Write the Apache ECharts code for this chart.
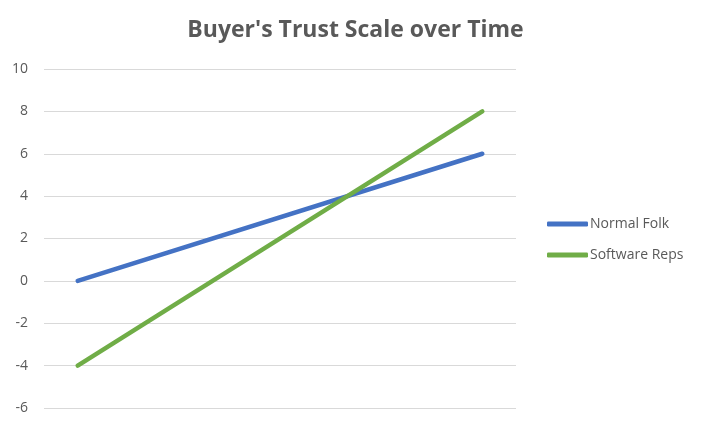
<!DOCTYPE html>
<html><head><meta charset="utf-8">
<script src="https://cdn.jsdelivr.net/npm/echarts@6/dist/echarts.min.js"></script>
<style>html,body{margin:0;padding:0;background:#fff}#c{width:711px;height:427px}</style>
</head><body><div id="c"></div>
<script>
const categories = ["1","2","3","4","5","6","7"];
const normalFolk = [0, null, null, null, null, null, 6];
const softwareReps = [-4, null, null, null, null, null, 8];
const seriesNames = ["Normal Folk", "Software Reps"];
const titleText = "Buyer's Trust Scale over Time";

const chart = echarts.init(document.getElementById('c'));
chart.setOption({
  animation: false,
  backgroundColor: '#fff',
  title: {
    text: titleText, left: 'center', top: 14,
    textStyle: { fontFamily: 'Open Sans', fontSize: 23, fontWeight: 'bold', color: '#595959' }
  },
  legend: {
    orient: 'vertical', left: 542, top: 212,
    itemWidth: 41, itemHeight: 5, itemGap: 17,
    icon: 'roundRect',
    textStyle: { fontFamily: 'Open Sans', fontSize: 14, color: '#595959', padding: [0,0,0,-3] },
    data: seriesNames
  },
  grid: { left: 44, right: 195, top: 69, bottom: 19 },
  xAxis: {
    type: 'category', data: categories, boundaryGap: true,
    axisLine: { show: false }, axisTick: { show: false }, axisLabel: { show: false }
  },
  yAxis: {
    type: 'value', min: -6, max: 10, interval: 2,
    axisLine: { show: false }, axisTick: { show: false },
    axisLabel: { fontFamily: 'Open Sans', fontSize: 14, color: '#595959', margin: 16 },
    splitLine: { lineStyle: { color: '#d9d9d9', width: 1 } }
  },
  series: [
    { name: seriesNames[0], type: 'line', data: normalFolk, connectNulls: true, showSymbol: false,
      symbol: 'none', lineStyle: { color: '#4472C4', width: 4.5, cap: 'round' }, itemStyle: { color: '#4472C4' } },
    { name: seriesNames[1], type: 'line', data: softwareReps, connectNulls: true, showSymbol: false,
      symbol: 'none', lineStyle: { color: '#70AD47', width: 4.5, cap: 'round' }, itemStyle: { color: '#70AD47' } }
  ]
});
</script></body></html>
